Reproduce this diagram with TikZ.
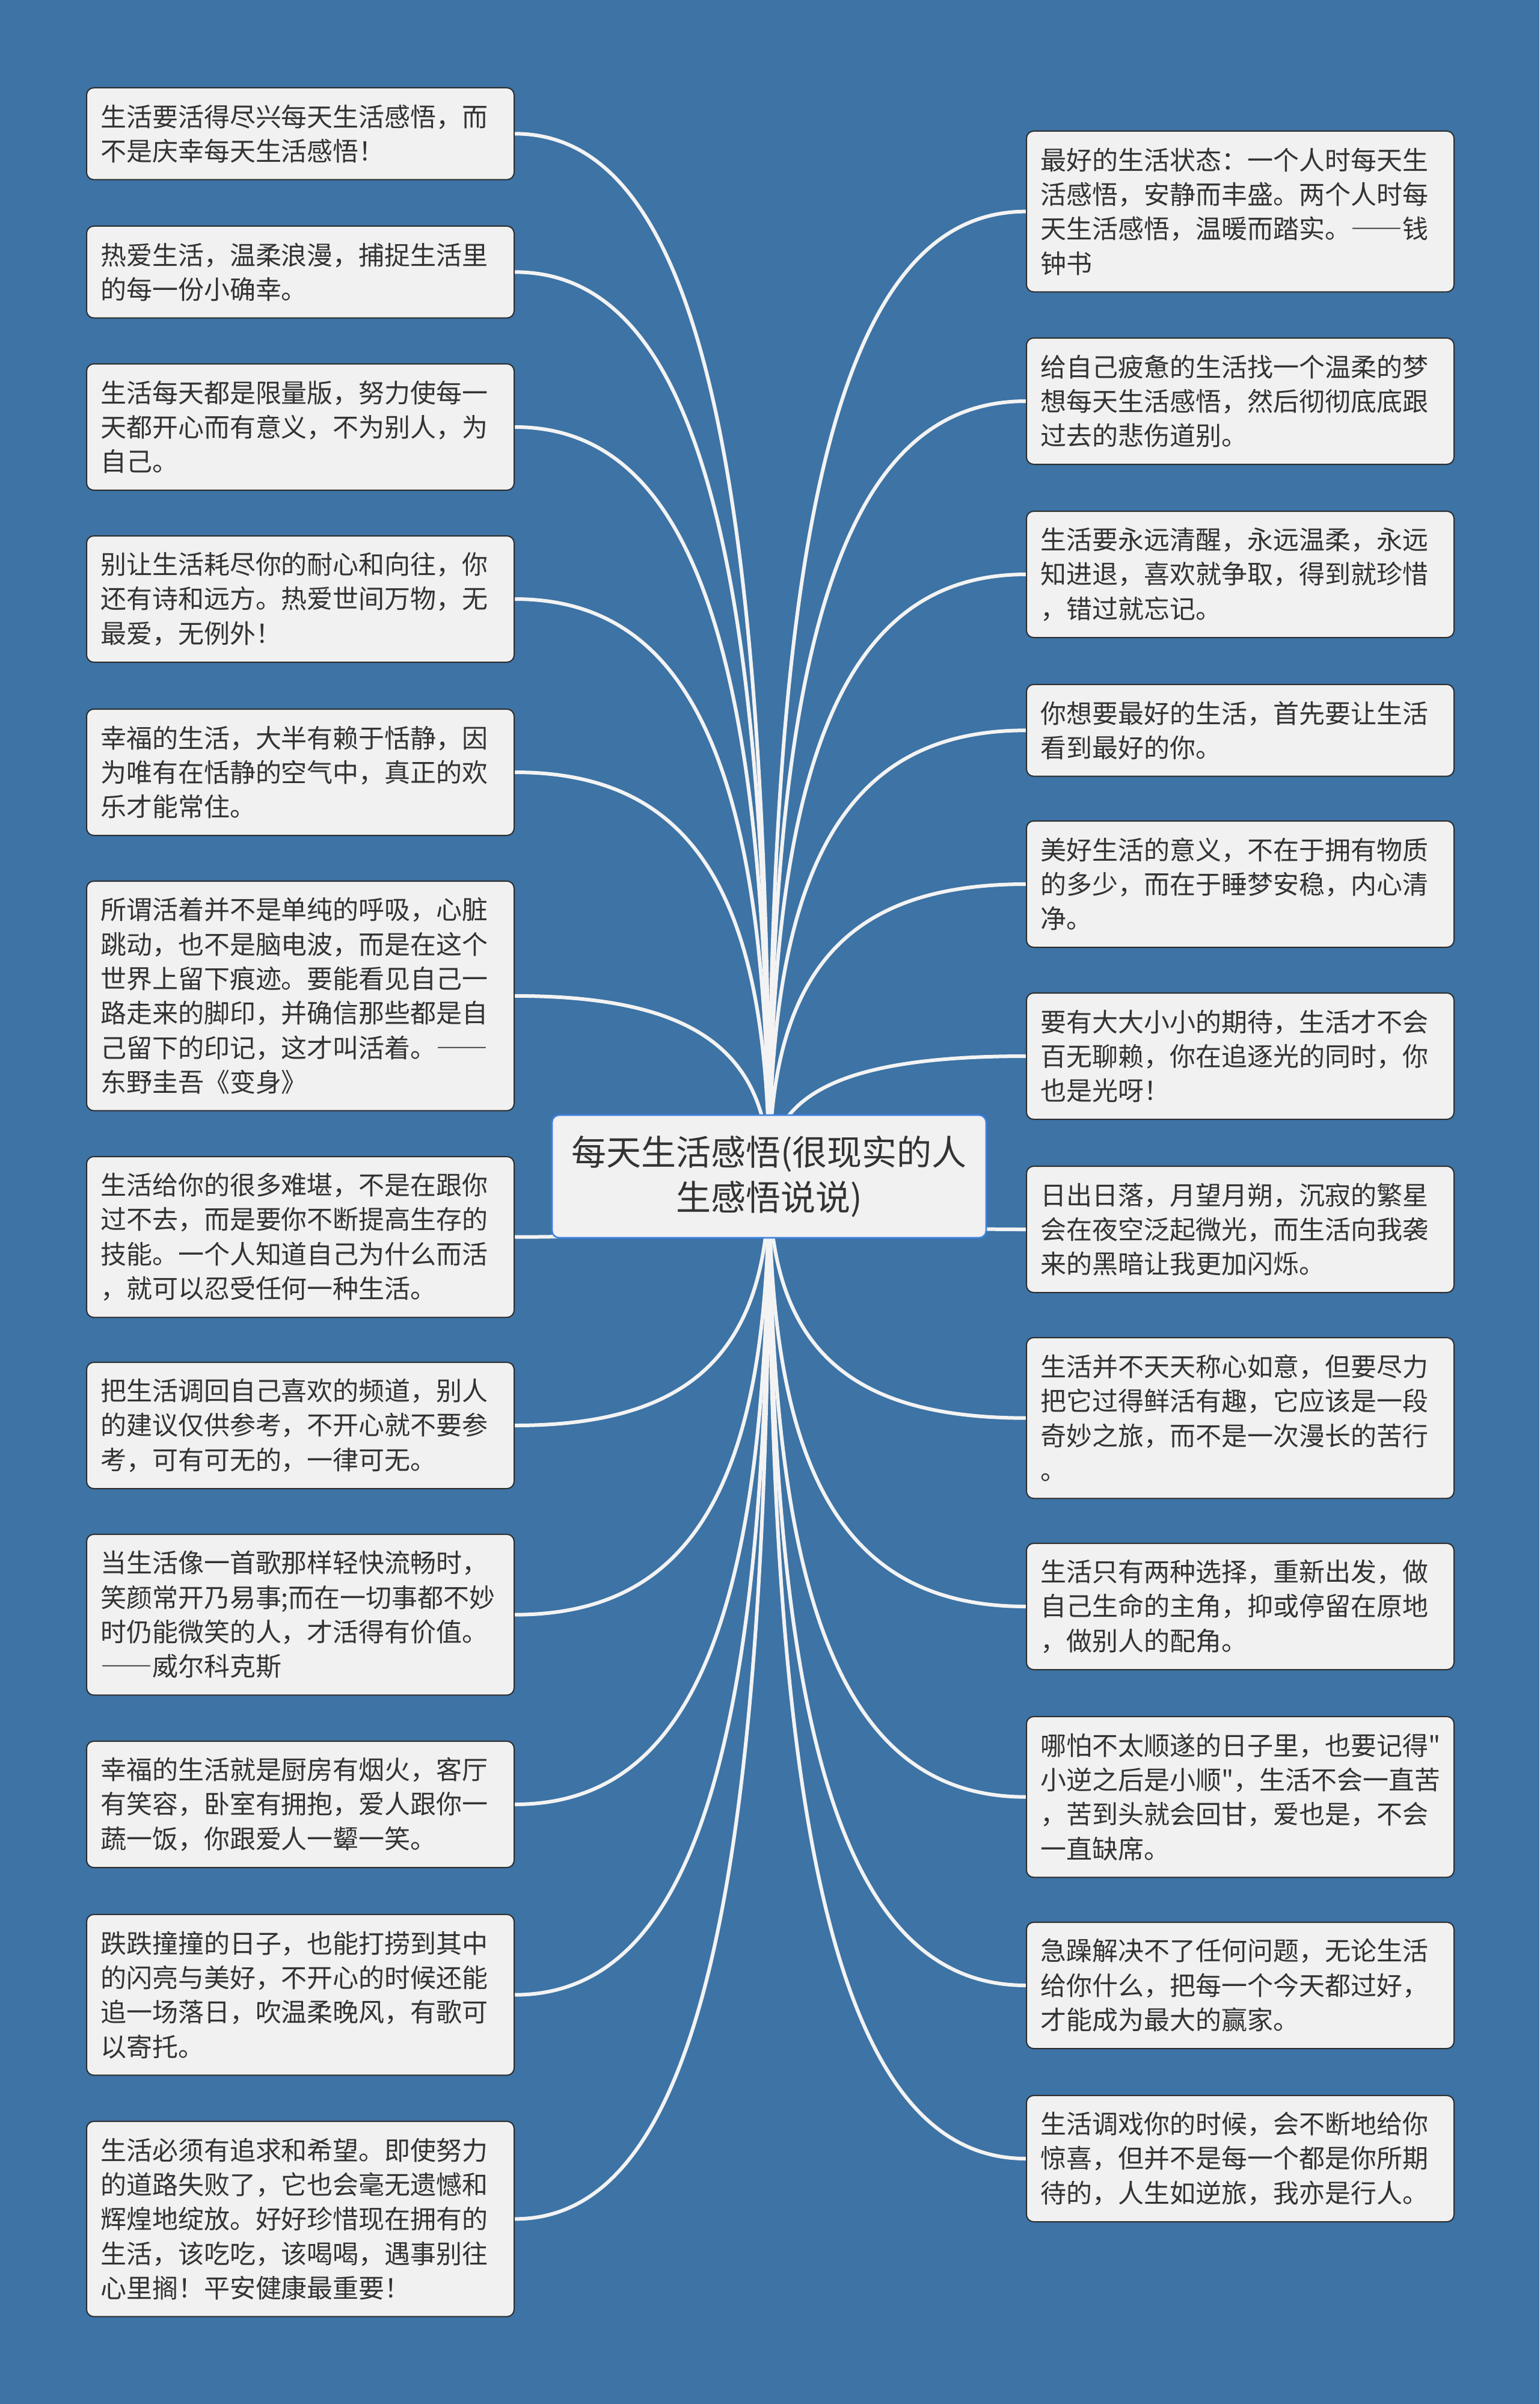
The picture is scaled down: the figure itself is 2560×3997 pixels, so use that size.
\documentclass[tikz,border=0pt]{standalone}
\usepackage{fontspec}
\setmainfont{Noto Sans CJK SC}
\newfontfamily\plaincjk{Noto Sans CJK SC}
\usetikzlibrary{calc}
\definecolor{bg}{RGB}{61,115,165}
\definecolor{boxfill}{RGB}{241,241,241}
\definecolor{boxline}{RGB}{45,45,45}
\definecolor{txt}{RGB}{51,51,51}
\definecolor{cline}{RGB}{63,130,224}
\definecolor{conncol}{RGB}{243,243,243}
\newcommand\emdashes{{\addfontfeature{RawFeature=+fwid}——}}
\newcommand\dq{{\plaincjk"}}
\pgfdeclarelayer{bgl}
\pgfsetlayers{bgl,main}
\begin{document}
\begin{tikzpicture}[x=0.3pt,y=-0.3pt,
  tbox/.style={draw=boxline, line width=0.6pt, fill=boxfill, rounded corners=3.6pt,
    text=txt, align=left, text width=199.5pt, inner xsep=6.9pt, inner ysep=0pt,
    font=\fontsize{12.9pt}{17.2pt}\selectfont, anchor=north west, minimum width=213.3pt},
  hii/.style={minimum height=45.8pt},
  hiii/.style={minimum height=63pt},
  hiv/.style={minimum height=80.2pt},
  hv/.style={minimum height=97.4pt},
  hvi/.style={minimum height=114.5pt},
  cbox/.style={draw=cline, line width=0.8pt, fill=boxfill, rounded corners=3.6pt,
    text=txt, align=center, minimum width=216.6pt, minimum height=61.2pt,
    font=\fontsize{17.4pt}{22.3pt}\selectfont},
  conn/.style={draw=conncol, line width=1.8pt}]
\useasboundingbox (0,0) rectangle (2560,3997);
\coordinate (C0) at (1279,1956);

% left nodes
\node[tbox,hii] (L1) at (143,145) {生活要活得尽兴每天生活感悟，而\\不是庆幸每天生活感悟！};
\node[tbox,hii] (L2) at (143,375) {热爱生活，温柔浪漫，捕捉生活里\\的每一份小确幸。};
\node[tbox,hiii] (L3) at (143,604) {生活每天都是限量版，努力使每一\\天都开心而有意义，不为别人，为\\自己。};
\node[tbox,hiii] (L4) at (143,890) {别让生活耗尽你的耐心和向往，你\\还有诗和远方。热爱世间万物，无\\最爱，无例外！};
\node[tbox,hiii] (L5) at (143,1178) {幸福的生活，大半有赖于恬静，因\\为唯有在恬静的空气中，真正的欢\\乐才能常住。};
\node[tbox,hvi] (L6) at (143,1464) {所谓活着并不是单纯的呼吸，心脏\\跳动，也不是脑电波，而是在这个\\世界上留下痕迹。要能看见自己一\\路走来的脚印，并确信那些都是自\\己留下的印记，这才叫活着。\emdashes\\东野圭吾《变身》};
\node[tbox,hiv] (L7) at (143,1922) {生活给你的很多难堪，不是在跟你\\过不去，而是要你不断提高生存的\\技能。一个人知道自己为什么而活\\，就可以忍受任何一种生活。};
\node[tbox,hiii] (L8) at (143,2264) {把生活调回自己喜欢的频道，别人\\的建议仅供参考，不开心就不要参\\考，可有可无的，一律可无。};
\node[tbox,hiv] (L9) at (143,2550) {当生活像一首歌那样轻快流畅时，\\笑颜常开乃易事;而在一切事都不妙\\时仍能微笑的人，才活得有价值。\\\emdashes 威尔科克斯};
\node[tbox,hiii] (L10) at (143,2894) {幸福的生活就是厨房有烟火，客厅\\有笑容，卧室有拥抱，爱人跟你一\\蔬一饭，你跟爱人一颦一笑。};
\node[tbox,hiv] (L11) at (143,3182) {跌跌撞撞的日子，也能打捞到其中\\的闪亮与美好，不开心的时候还能\\追一场落日，吹温柔晚风，有歌可\\以寄托。};
\node[tbox,hv] (L12) at (143,3526) {生活必须有追求和希望。即使努力\\的道路失败了，它也会毫无遗憾和\\辉煌地绽放。好好珍惜现在拥有的\\生活，该吃吃，该喝喝，遇事别往\\心里搁！平安健康最重要！};

% right nodes
\node[tbox,hiv] (R1) at (1706,217) {最好的生活状态：一个人时每天生\\活感悟，安静而丰盛。两个人时每\\天生活感悟，温暖而踏实。\emdashes 钱\\钟书};
\node[tbox,hiii] (R2) at (1706,561) {给自己疲惫的生活找一个温柔的梦\\想每天生活感悟，然后彻彻底底跟\\过去的悲伤道别。};
\node[tbox,hiii] (R3) at (1706,849) {生活要永远清醒，永远温柔，永远\\知进退，喜欢就争取，得到就珍惜\\，错过就忘记。};
\node[tbox,hii] (R4) at (1706,1137) {你想要最好的生活，首先要让生活\\看到最好的你。};
\node[tbox,hiii] (R5) at (1706,1364) {美好生活的意义，不在于拥有物质\\的多少，而在于睡梦安稳，内心清\\净。};
\node[tbox,hiii] (R6) at (1706,1650) {要有大大小小的期待，生活才不会\\百无聊赖，你在追逐光的同时，你\\也是光呀！};
\node[tbox,hiii] (R7) at (1706,1938) {日出日落，月望月朔，沉寂的繁星\\会在夜空泛起微光，而生活向我袭\\来的黑暗让我更加闪烁。};
\node[tbox,hiv] (R8) at (1706,2223) {生活并不天天称心如意，但要尽力\\把它过得鲜活有趣，它应该是一段\\奇妙之旅，而不是一次漫长的苦行\\。};
\node[tbox,hiii] (R9) at (1706,2565) {生活只有两种选择，重新出发，做\\自己生命的主角，抑或停留在原地\\，做别人的配角。};
\node[tbox,hiv] (R10) at (1706,2853) {哪怕不太顺遂的日子里，也要记得\dq\\小逆之后是小顺\dq，生活不会一直苦\\，苦到头就会回甘，爱也是，不会\\一直缺席。};
\node[tbox,hiii] (R11) at (1706,3195) {急躁解决不了任何问题，无论生活\\给你什么，把每一个今天都过好，\\才能成为最大的赢家。};
\node[tbox,hiii] (R12) at (1706,3483) {生活调戏你的时候，会不断地给你\\惊喜，但并不是每一个都是你所期\\待的，人生如逆旅，我亦是行人。};

% centre node
\node[cbox] (C) at (C0) {每天生活感悟(很现实的人\\生感悟说说)};

% background and connectors
\begin{pgfonlayer}{bgl}
\fill[bg] (0,0) rectangle (2560,3997);
\foreach \n in {L1,L2,L3,L4,L5,L6,L7,L8,L9,L10,L11,L12}{
  \coordinate (K\n) at (C.center |- \n.east);
  \draw[conn] (C.center) .. controls ($(C.center)!0.7!(K\n)$) and ($(\n.east)!0.7!(K\n)$) .. (\n.east);
}
\foreach \n in {R1,R2,R3,R4,R5,R6,R7,R8,R9,R10,R11,R12}{
  \coordinate (K\n) at (C.center |- \n.west);
  \draw[conn] (C.center) .. controls ($(C.center)!0.7!(K\n)$) and ($(\n.west)!0.7!(K\n)$) .. (\n.west);
}
\end{pgfonlayer}
\end{tikzpicture}
\end{document}
